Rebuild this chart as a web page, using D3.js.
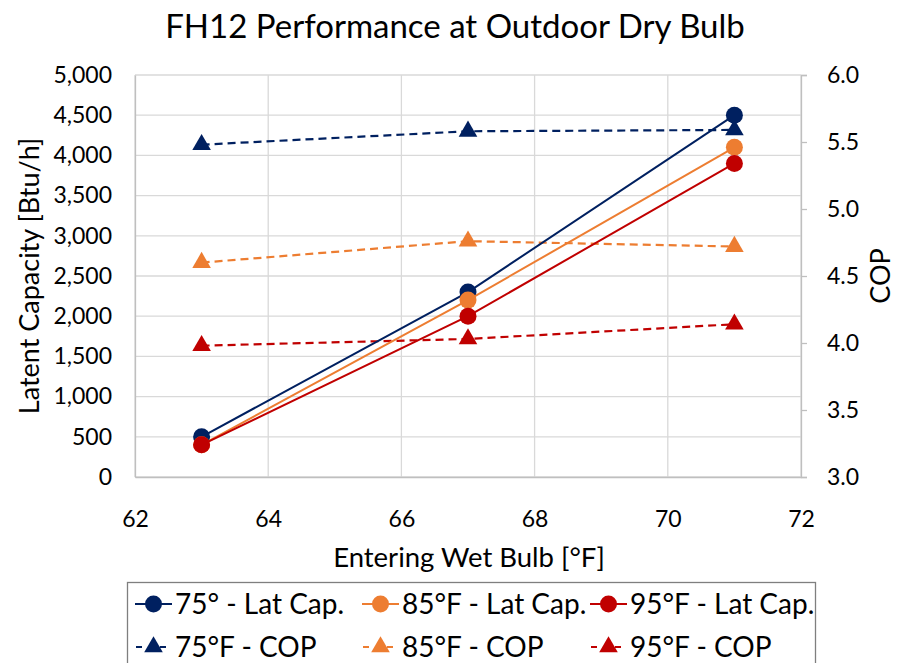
<!DOCTYPE html>
<html>
<head>
<meta charset="utf-8">
<script src="https://cdn.jsdelivr.net/npm/d3@7"></script>
<style>
  body { margin: 0; background: #fff; }
  svg { display: block; font-family: Lato, "Open Sans", sans-serif; }
</style>
</head>
<body>
<div id="chart"></div>
<script>
// FH12 latent capacity + COP vs entering wet bulb, dual axis

const wetBulb = [63, 67, 71];
const capSeries = ["75° - Lat Cap.", "85°F - Lat Cap.", "95°F - Lat Cap."];
const copSeries = ["75°F - COP", "85°F - COP", "95°F - COP"];
const colors = ["#002060", "#ED7D31", "#C00000"];

// latent capacity [Btu/h]
const cap75 = [500, 2300, 4500];
const cap85 = [400, 2200, 4100];
const cap95 = [400, 2000, 3900];

// COP
const cop75 = [5.48, 5.58, 5.59];
const cop85 = [4.60, 4.76, 4.72];
const cop95 = [3.98, 4.03, 4.14];

const xTicks = [62, 64, 66, 68, 70, 72];
const capTicks = d3.range(0, 5001, 500);
const copTicks = [3.0, 3.5, 4.0, 4.5, 5.0, 5.5, 6.0];

const width = 901, height = 663;
const plot = { left: 135, right: 801, top: 75, bottom: 477 };

const svg = d3.select("#chart").append("svg")
  .attr("width", width)
  .attr("height", height);

const x = d3.scaleLinear().domain([62, 72]).range([plot.left, plot.right]);
const yCap = d3.scaleLinear().domain([0, 5000]).range([plot.bottom, plot.top]);
const yCop = d3.scaleLinear().domain([3, 6]).range([plot.bottom, plot.top]);

// gridlines
const grid = svg.append("g").attr("stroke", "#d9d9d9").attr("stroke-width", 1.3);
grid.selectAll(".h").data(capTicks).join("line")
  .attr("x1", plot.left).attr("x2", plot.right)
  .attr("y1", d => yCap(d)).attr("y2", d => yCap(d));
grid.selectAll(".v").data(xTicks).join("line")
  .attr("x1", d => x(d)).attr("x2", d => x(d))
  .attr("y1", plot.top).attr("y2", plot.bottom);

// axes
const fmt = d3.format(",");
const left = svg.append("g")
  .attr("transform", `translate(${plot.left},0)`)
  .call(d3.axisLeft(yCap).tickValues(capTicks).tickFormat(fmt).tickSize(0).tickPadding(23));
const right = svg.append("g")
  .attr("transform", `translate(${plot.right},0)`)
  .call(d3.axisRight(yCop).tickValues(copTicks).tickFormat(d3.format(".1f")).tickSize(6).tickPadding(20));
const bottom = svg.append("g")
  .attr("transform", `translate(0,${plot.bottom})`)
  .call(d3.axisBottom(x).tickValues(xTicks).tickSize(0).tickPadding(34));

[left, right, bottom].forEach(a => {
  a.selectAll(".domain").attr("stroke", "#bfbfbf").attr("stroke-width", 1.3);
  a.selectAll(".tick line").attr("stroke", "#bfbfbf").attr("stroke-width", 1.3);
  a.selectAll("text").attr("fill", "#000").style("font-size", "23px").style("font-family", "Lato, sans-serif");
});

// lines
const capLine = d3.line().x((d, i) => x(wetBulb[i])).y(d => yCap(d));
const copLine = d3.line().x((d, i) => x(wetBulb[i])).y(d => yCop(d));
const caps = [cap75, cap85, cap95];
const cops = [cop75, cop85, cop95];
const tri = d3.symbol().type(d3.symbolTriangle).size(150);

cops.forEach((vals, k) => {
  svg.append("path").datum(vals)
    .attr("d", copLine)
    .attr("fill", "none")
    .attr("stroke", colors[k])
    .attr("stroke-width", 2.2)
    .attr("stroke-dasharray", "8,5");
  svg.append("g").selectAll("path").data(vals).join("path")
    .attr("d", tri)
    .attr("transform", (d, i) => `translate(${x(wetBulb[i])},${yCop(d)})`)
    .attr("fill", colors[k]);
});

caps.forEach((vals, k) => {
  svg.append("path").datum(vals)
    .attr("d", capLine)
    .attr("fill", "none")
    .attr("stroke", colors[k])
    .attr("stroke-width", 2);
  svg.append("g").selectAll("circle").data(vals).join("circle")
    .attr("cx", (d, i) => x(wetBulb[i]))
    .attr("cy", d => yCap(d))
    .attr("r", 8.5)
    .attr("fill", colors[k]);
});

// titles
svg.append("text")
  .attr("x", 455).attr("y", 38)
  .attr("text-anchor", "middle")
  .style("font-size", "33px")
  .text("FH12 Performance at Outdoor Dry Bulb");

svg.append("text")
  .attr("x", 469).attr("y", 567)
  .attr("text-anchor", "middle")
  .style("font-size", "27.5px")
  .text("Entering Wet Bulb [°F]");

svg.append("text")
  .attr("transform", `translate(39,${(plot.top + plot.bottom) / 2}) rotate(-90)`)
  .attr("text-anchor", "middle")
  .style("font-size", "27px")
  .text("Latent Capacity [Btu/h]");

svg.append("text")
  .attr("transform", `translate(890,${(plot.top + plot.bottom) / 2}) rotate(-90)`)
  .attr("text-anchor", "middle")
  .style("font-size", "27px")
  .text("COP");

// legend
svg.append("rect")
  .attr("x", 127.5).attr("y", 582.5)
  .attr("width", 688).attr("height", 100)
  .attr("fill", "none")
  .attr("stroke", "#7f7f7f")
  .attr("stroke-width", 1.3);

const colX = [135, 362, 590];
const rowY = [604, 647];
[capSeries, copSeries].forEach((names, r) => {
  names.forEach((name, k) => {
    const g = svg.append("g").attr("transform", `translate(${colX[k]},${rowY[r]})`);
    g.append("line")
      .attr("x1", 0).attr("x2", 37)
      .attr("stroke", colors[k]).attr("stroke-width", 2)
      .attr("stroke-dasharray", r ? "6,6" : null)
      .attr("stroke-dashoffset", r ? -1 : 0);
    if (r === 0) {
      g.append("circle").attr("cx", 18.5).attr("r", 8.5).attr("fill", colors[k]);
    } else {
      g.append("path").attr("d", tri).attr("transform", "translate(18.5,0)").attr("fill", colors[k]);
    }
    g.append("text")
      .attr("x", 40).attr("dy", "0.35em")
      .style("font-size", "28px")
      .text(name);
  });
});
</script>
</body>
</html>
